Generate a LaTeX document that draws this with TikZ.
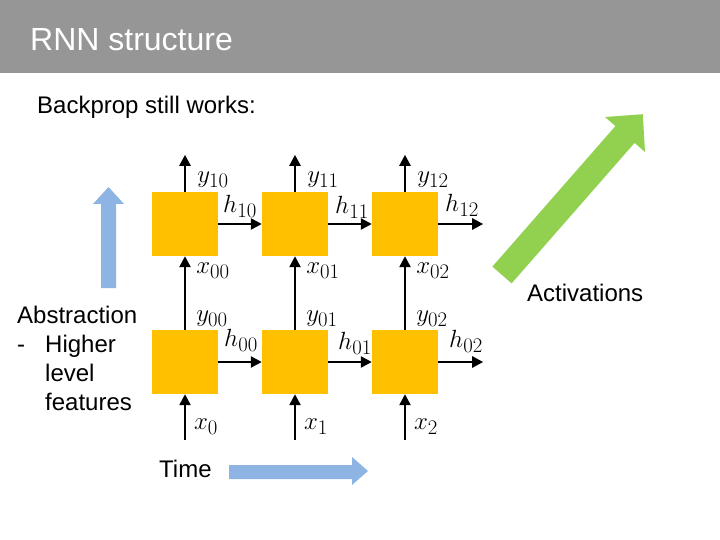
\documentclass[tikz,border=0pt]{standalone}
\usepackage{fontspec}
\setmainfont{Liberation Sans}
\usetikzlibrary{positioning, arrows.meta, calc}
\definecolor{cellyellow}{RGB}{255,192,0}
\definecolor{titlegray}{RGB}{150,150,150}
\definecolor{arrowblue}{RGB}{141,180,226}
\definecolor{arrowgreen}{RGB}{146,208,80}

\begin{document}
\begin{tikzpicture}[
    x=1pt, y=-1pt,
    cell/.style={fill=cellyellow, minimum width=66pt, minimum height=64pt, inner sep=0pt},
    lbl/.style={font=\Huge, inner sep=0pt},
    txt/.style={font=\fontsize{24}{29}\selectfont, inner sep=0pt, anchor=base west},
    link/.style={line width=2.4pt, -{Triangle[length=11pt,width=11pt]}}
]
    \useasboundingbox (0,0) rectangle (720,540);

    % Title bar
    \fill[titlegray] (0,0) rectangle (720,73);
    \node[txt, font=\fontsize{32}{38}\selectfont, text=white] (title) at (30,51) {RNN structure};
    \node[txt] (backprop) at (37,114) {Backprop still works:};

    % Cells, two layers over three time steps
    \foreach \c/\x in {0/185,1/295,2/405} {
        \node[cell] (top\c) at (\x,224) {};
        \node[cell] (bot\c) at (\x,362) {};
        \coordinate (in\c) at ($(bot\c.south)+(0,46)$);
        \coordinate (out\c) at ($(top\c.north)+(0,-37)$);
        \draw[link] (in\c) -- (bot\c.south);
        \draw[link] (bot\c.north) -- (top\c.south);
        \draw[link] (top\c.north) -- (out\c);
    }
    \coordinate (topend) at ($(top2.east)+(45,0)$);
    \coordinate (botend) at ($(bot2.east)+(45,0)$);
    \draw[link] (top0.east) -- (top1.west);
    \draw[link] (top1.east) -- (top2.west);
    \draw[link] (top2.east) -- (topend);
    \draw[link] (bot0.east) -- (bot1.west);
    \draw[link] (bot1.east) -- (bot2.west);
    \draw[link] (bot2.east) -- (botend);

    % Labels
    \foreach \c/\x in {0/185,1/295,2/405} {
        \node[lbl] (ytop\c) at (\x+28,180) {$y_{1\c}$};
        \node[lbl] (xtop\c) at (\x+28,271) {$x_{0\c}$};
        \node[lbl] (ybot\c) at (\x+27,319) {$y_{0\c}$};
        \node[lbl] (xbot\c) at (\x+21,427) {$x_{\c}$};
    }
    \foreach \c/\x/\y in {0/240/206,1/352/207,2/462/205} {
        \node[lbl] (htop\c) at (\x,\y) {$h_{1\c}$};
    }
    \foreach \c/\x/\y in {0/241/340,1/355/343,2/466/341} {
        \node[lbl] (hbot\c) at (\x,\y) {$h_{0\c}$};
    }

    % Block arrows
    \fill[arrowblue] (101,288) -- (101,204) -- (93,204) -- (108.5,187) -- (124,204)
        -- (116,204) -- (116,288) -- cycle;
    \fill[arrowblue] (229,465) -- (352,465) -- (352,457) -- (368,471) -- (352,485)
        -- (352,479) -- (229,479) -- cycle;
    \fill[arrowgreen] (492.4,266.6) -- (615.4,126.1) -- (605,117) -- (642.8,114.2)
        -- (645,152) -- (634.6,142.9) -- (511.6,283.4) -- cycle;

    \node[txt, anchor=north west, align=left] (abstraction) at (17,306)
        {Abstraction\\\makebox[28pt][l]{-}Higher\\\hspace*{28pt}level\\\hspace*{28pt}features};
    \node[txt] (activations) at (527,301) {Activations};
    \node[txt] (time) at (159,477) {Time};
\end{tikzpicture}
\end{document}
